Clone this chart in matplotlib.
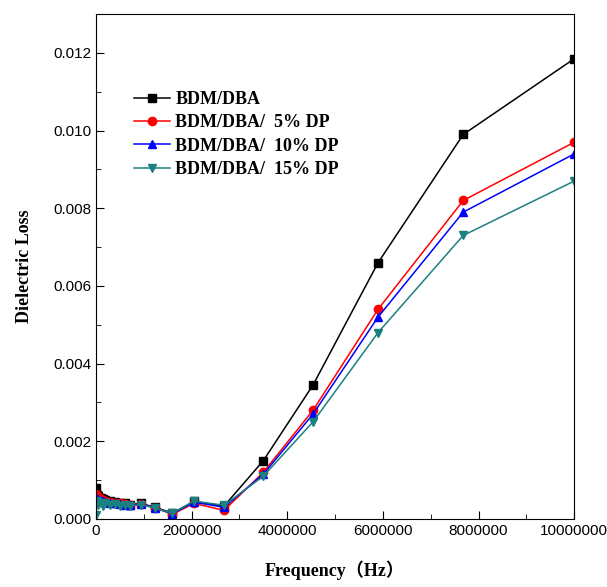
import numpy as np
import matplotlib.pyplot as plt
from matplotlib.ticker import MultipleLocator

# frequency points (Hz)
freq = [1e3, 2e4, 5e4, 1e5, 1.5e5, 2e5, 3e5, 4e5, 5e5, 6e5, 7.2e5, 9.4e5,
        1.23e6, 1.6e6, 2.05e6, 2.68e6, 3.5e6, 4.54e6, 5.9e6, 7.68e6, 1e7]

loss_0 = [0.0008, 0.00062, 0.00058, 0.00055, 0.0005, 0.00048, 0.00045, 0.00043,
          0.00042, 0.0004, 0.00037, 0.0004, 0.0003, 0.00015, 0.00045, 0.00033,
          0.0015, 0.00345, 0.0066, 0.0099, 0.01185]
loss_5 = [0.00065, 0.0006, 0.00056, 0.00052, 0.00048, 0.00046, 0.00043, 0.00041,
          0.0004, 0.00038, 0.00036, 0.00039, 0.00029, 0.00012, 0.0004, 0.00022,
          0.0012, 0.0028, 0.0054, 0.0082, 0.0097]
loss_10 = [0.0005, 0.00052, 0.0005, 0.00048, 0.00045, 0.00044, 0.00042, 0.0004,
           0.00039, 0.00037, 0.00035, 0.00038, 0.00029, 0.00013, 0.00043, 0.0003,
           0.00115, 0.0027, 0.0052, 0.0079, 0.0094]
loss_15 = [0.0001, 0.00045, 0.00035, 0.00042, 0.00033, 0.0004, 0.00035, 0.00038,
           0.00033, 0.00036, 0.00034, 0.00037, 0.00028, 0.00014, 0.00046, 0.00035,
           0.0011, 0.0025, 0.0048, 0.0073, 0.0087]

labels = ["BDM/DBA", "BDM/DBA/  5% DP", "BDM/DBA/  10% DP", "BDM/DBA/  15% DP"]
colors = ["black", "red", "blue", "#1a8080"]
markers = ["s", "o", "^", "v"]

fig = plt.figure(figsize=(6.07, 5.87), dpi=100)
ax = fig.add_axes([0.158, 0.116, 0.788, 0.86])

for ys, lab, c, m in zip([loss_0, loss_5, loss_10, loss_15], labels, colors, markers):
    ax.plot(freq, ys, color=c, marker=m, markersize=6, linewidth=1.1, label=lab)

ax.set_xlim(0, 1e7)
ax.set_ylim(0, 0.013)
ax.set_xticks(np.arange(0, 1.01e7, 2e6))
ax.set_xticklabels([str(int(v)) for v in np.arange(0, 1.01e7, 2e6)])
ax.set_yticks(np.arange(0, 0.0121, 0.002))
ax.set_yticklabels(["%.3f" % v for v in np.arange(0, 0.0121, 0.002)])
ax.xaxis.set_minor_locator(MultipleLocator(1e6))
ax.yaxis.set_minor_locator(MultipleLocator(0.001))
ax.tick_params(which="both", direction="in", top=False, right=False)
ax.tick_params(which="major", length=6, labelsize=11)
ax.tick_params(which="minor", length=3.5)
for t in ax.get_xticklabels() + ax.get_yticklabels():
    t.set_fontfamily("Liberation Sans")

ax.set_xlabel("Frequency（Hz）", fontfamily=["Liberation Serif", "Noto Sans CJK SC"],
              fontweight="bold", fontsize=13, labelpad=16)
ax.set_ylabel("Dielectric Loss", fontfamily="Liberation Serif",
              fontweight="bold", fontsize=13, labelpad=14)

ax.legend(loc="upper left", bbox_to_anchor=(0.045, 0.88), frameon=False,
          prop={"family": "Liberation Serif", "weight": "bold", "size": 13},
          handlelength=2.0, handletextpad=0.3, labelspacing=0.35)

fig.savefig("out.png", dpi=100)
